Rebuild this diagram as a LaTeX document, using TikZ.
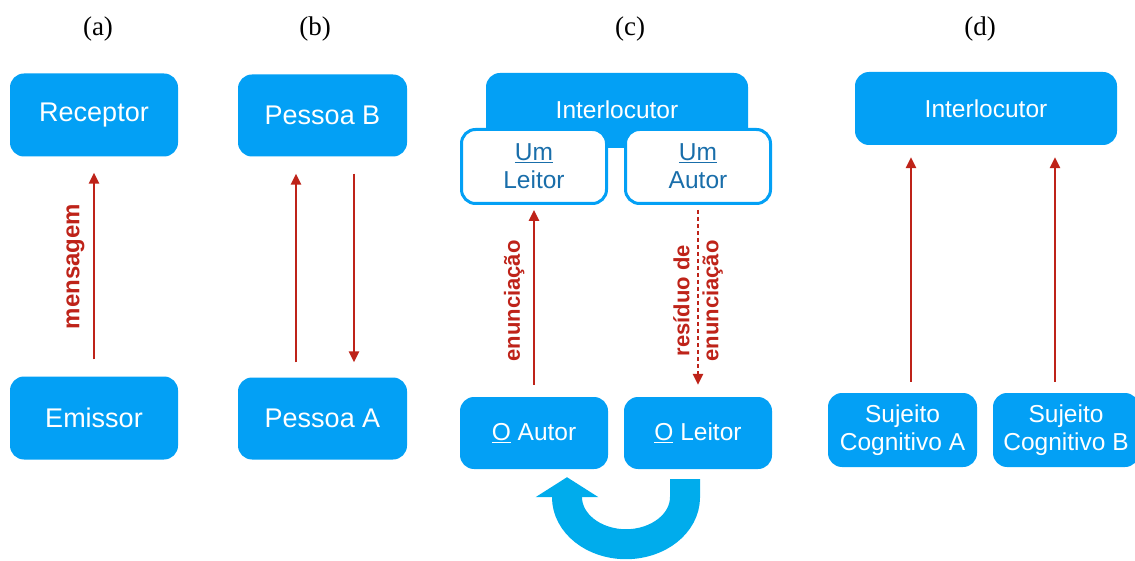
\documentclass[tikz,border=0pt]{standalone}
\usepackage{fontspec}
\setmainfont{Liberation Sans}
\newfontfamily\titlefont{Liberation Serif}
\usetikzlibrary{arrows.meta}

\definecolor{boxblue}{RGB}{3,160,245}
\definecolor{loopblue}{RGB}{0,172,236}
\definecolor{textblue}{RGB}{25,110,170}
\definecolor{arrowred}{RGB}{190,35,25}

\begin{document}
\begin{tikzpicture}[x=1pt, y=-1pt,
    box/.style={fill=boxblue, rounded corners=14pt, text=white, align=center, inner sep=0pt},
    openbox/.style={draw=boxblue, line width=3pt, fill=white, rounded corners=14pt, text=textblue, align=center, inner sep=0pt},
    bigtxt/.style={font=\fontsize{27}{32}\selectfont},
    smalltxt/.style={font=\fontsize{24.5}{28}\selectfont},
    msg/.style={draw=arrowred, line width=2.5pt, -{Triangle[length=11pt,width=10pt]}},
    lbl/.style={text=arrowred, font=\fontsize{22}{29}\selectfont\bfseries, align=center}]
    \useasboundingbox (0,0) rectangle (1135,561);

    \node[font=\titlefont\fontsize{27}{30}\selectfont] (ta) at (98,29) {(a)};
    \node[font=\titlefont\fontsize{27}{30}\selectfont] (tb) at (315,29) {(b)};
    \node[font=\titlefont\fontsize{27}{30}\selectfont] (tc) at (630,29) {(c)};
    \node[font=\titlefont\fontsize{27}{30}\selectfont] (td) at (980,29) {(d)};

    % (a)
    \node[box, bigtxt, minimum width=168pt, minimum height=83pt] (receptor) at (94,115) {Receptor};
    \node[box, bigtxt, minimum width=168pt, minimum height=83pt] (emissor) at (94,418) {Emissor};

    % (b)
    \node[box, bigtxt, minimum width=169pt, minimum height=82pt] (pessoab) at (322.5,115.5) {Pessoa B};
    \node[box, bigtxt, minimum width=169pt, minimum height=82pt] (pessoaa) at (322.5,418.5) {Pessoa A};

    % (c)
    \node[box, minimum width=262pt, minimum height=75pt] (interc) at (617,110.5) {};
    \node[text=white, smalltxt] (intertxt) at (617,110) {Interlocutor};
    \node[openbox, smalltxt, minimum width=145pt, minimum height=74pt] (umleitor) at (534,166.5) {\underline{Um}\\Leitor};
    \node[openbox, smalltxt, minimum width=145pt, minimum height=74pt] (umautor) at (698,166.5) {\underline{Um}\\Autor};
    \node[box, smalltxt, minimum width=148pt, minimum height=72pt] (oautor) at (534,433) {\underline{O} Autor};
    \node[box, smalltxt, minimum width=148pt, minimum height=72pt] (oleitor) at (698,433) {\underline{O} Leitor};

    % (d)
    \node[box, smalltxt, minimum width=262pt, minimum height=73pt] (interd) at (986,108.5) {Interlocutor};
    \node[box, smalltxt, minimum width=149pt, minimum height=74pt] (sujeitoa) at (902.5,430) {Sujeito\\Cognitivo A};
    \node[box, smalltxt, minimum width=146pt, minimum height=74pt] (sujeitob) at (1066,430) {Sujeito\\Cognitivo B};

    \draw[msg, shorten <=17pt, shorten >=16pt] (emissor) -- (receptor)
        node[lbl, font=\fontsize{24}{29}\selectfont\bfseries, midway, sloped, above=5pt] {mensagem};

    \draw[msg, shorten <=15pt, shorten >=17pt] ([xshift=-26.5pt]pessoaa.north) -- ([xshift=-26.5pt]pessoab.south);
    \draw[msg, shorten <=17pt, shorten >=15pt] ([xshift=31.5pt]pessoab.south) -- ([xshift=31.5pt]pessoaa.north);

    \draw[msg, shorten <=12pt, shorten >=5pt] (oautor) -- (umleitor)
        node[lbl, midway, sloped, above=5pt] {enunciação};
    \draw[msg, dash pattern=on 4pt off 3pt, shorten <=5pt, shorten >=12pt] (umautor) -- (oleitor)
        node[lbl, midway, rotate=90] {resíduo de\\enunciação};

    \draw[msg, shorten <=11pt, shorten >=12pt] ([xshift=8.5pt]sujeitoa.north) -- ([xshift=8.5pt]sujeitoa.north |- interd.south);
    \draw[msg, shorten <=11pt, shorten >=12pt] ([xshift=-11pt]sujeitob.north) -- ([xshift=-11pt]sujeitob.north |- interd.south);

    % loop between the two lower boxes
    \draw[loopblue, line width=30pt, -{Triangle[length=20pt,width=62pt]}]
        ([xshift=-13pt,yshift=-10pt]oleitor.south) -- ++(0,18)
        arc[start angle=0, end angle=180, x radius=59, y radius=47] -- ++(0,-20);
\end{tikzpicture}
\end{document}
